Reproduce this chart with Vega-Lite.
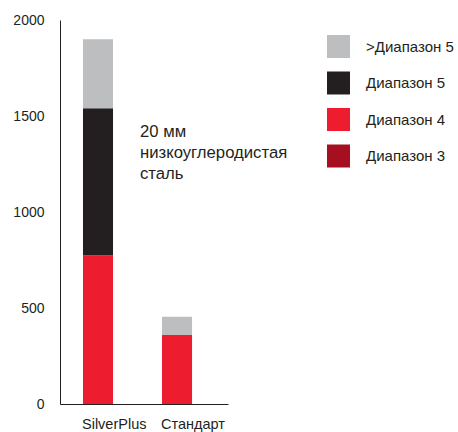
{
  "$schema": "https://vega.github.io/schema/vega-lite/v6.json",
  "width": 168,
  "height": 384,
  "autosize": {"type": "none"},
  "padding": {"left": 60, "top": 20, "right": 230, "bottom": 28},
  "config": {
    "view": {"stroke": null},
    "font": "Liberation Sans",
    "axis": {"labelColor": "#231f20", "domainColor": "#231f20", "grid": false, "ticks": false, "tickSize": 0, "title": null},
    "legend": {"labelColor": "#231f20"}
  },
  "layer": [
    {
      "data": {
        "values": [
          {"product": "SilverPlus", "range": "Диапазон 4", "level": 4, "value": 775},
          {"product": "SilverPlus", "range": "Диапазон 5", "level": 5, "value": 765},
          {"product": "SilverPlus", "range": ">Диапазон 5", "level": 6, "value": 360},
          {"product": "Стандарт", "range": "Диапазон 4", "level": 4, "value": 360},
          {"product": "Стандарт", "range": ">Диапазон 5", "level": 6, "value": 95}
        ]
      },
      "mark": {"type": "bar"},
      "encoding": {
        "x": {
          "field": "product", "type": "nominal", "sort": ["SilverPlus", "Стандарт"],
          "scale": {"paddingInner": 0.62, "paddingOuter": 0.373, "align": 0.39},
          "axis": {"labelAngle": 0, "labelAlign": "left", "labelOffset": -16, "labelFontSize": 14.5, "labelPadding": 13, "labelBaseline": "top"}
        },
        "y": {
          "field": "value", "type": "quantitative", "stack": "zero",
          "scale": {"domain": [0, 2000], "nice": false},
          "axis": {"values": [0, 500, 1000, 1500, 2000], "format": "d", "labelFontSize": 14, "labelPadding": 16}
        },
        "color": {
          "field": "range", "type": "nominal",
          "scale": {
            "domain": [">Диапазон 5", "Диапазон 5", "Диапазон 4", "Диапазон 3"],
            "range": ["#bcbec0", "#231f20", "#ed1c2e", "#a60f1f"]
          },
          "legend": {
            "title": null, "orient": "none", "legendX": 267, "legendY": 15,
            "symbolType": "square", "symbolSize": 529, "symbolStrokeWidth": 0, "symbolOpacity": 1,
            "labelFontSize": 15, "labelOffset": 16, "rowPadding": 13.5, "padding": 0
          }
        },
        "order": {"field": "level", "type": "quantitative", "sort": "ascending"}
      }
    },
    {
      "data": {"values": [{}]},
      "mark": {
        "type": "text",
        "text": ["20 мм", "низкоуглеродистая", "сталь"],
        "align": "left", "baseline": "alphabetic", "dx": 42,
        "fontSize": 16.7, "lineHeight": 21, "color": "#231f20"
      },
      "encoding": {
        "x": {"datum": "SilverPlus"},
        "y": {"datum": 1390}
      }
    }
  ]
}
